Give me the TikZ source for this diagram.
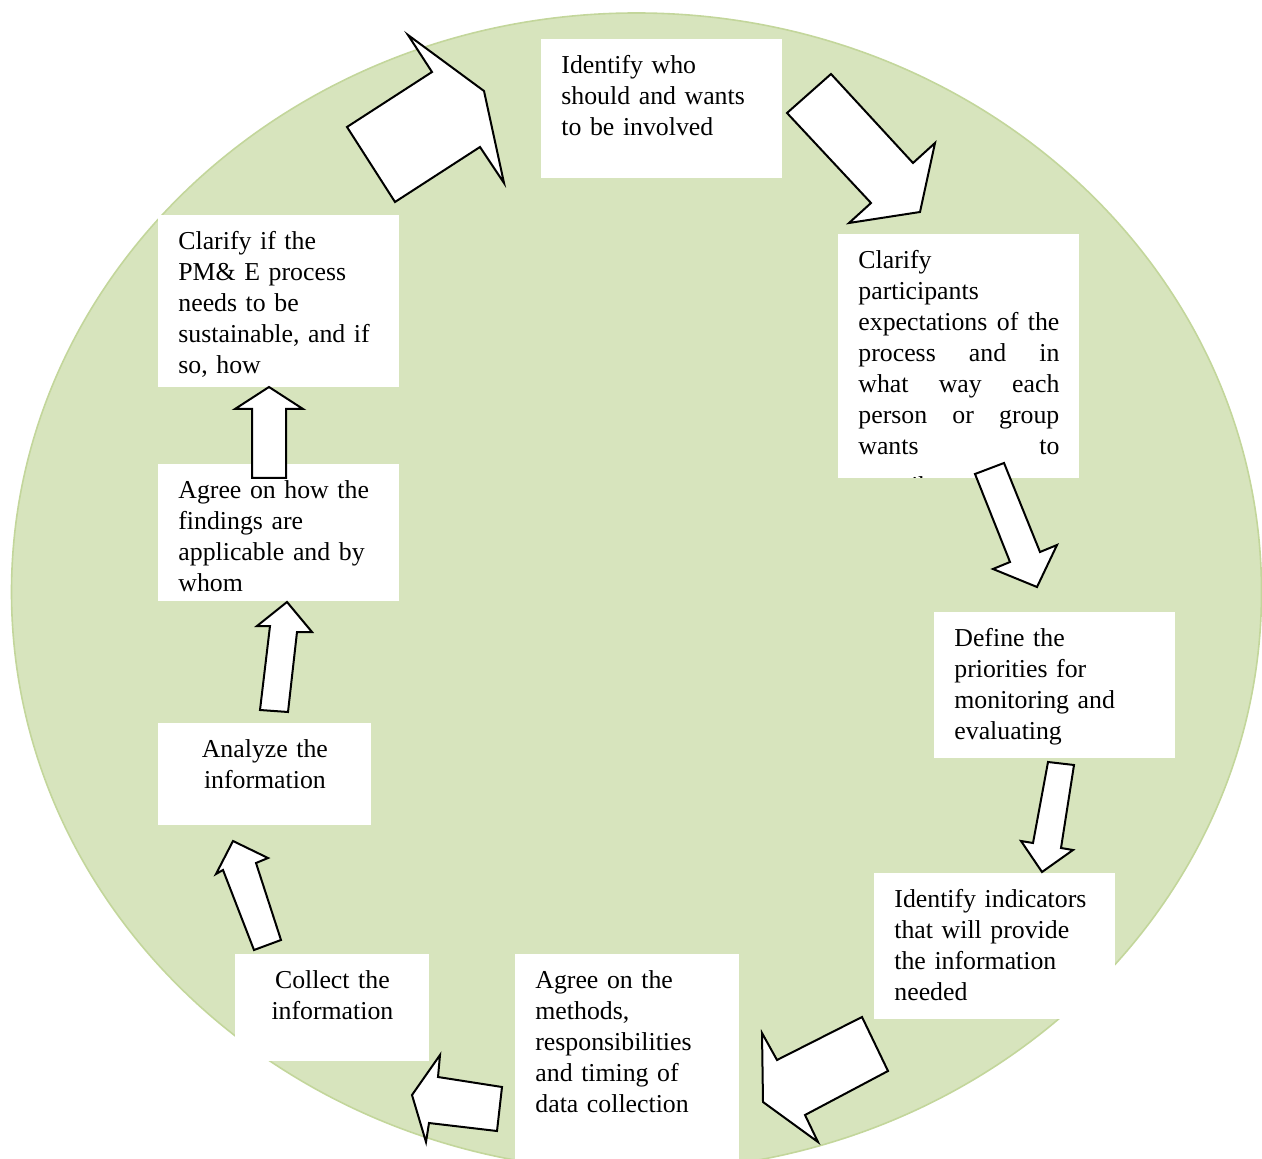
\documentclass[tikz,border=0pt]{standalone}
\usepackage{fontspec}
\setmainfont{Liberation Serif}
\usepackage{tikz}
\definecolor{ovalgreen}{HTML}{D7E4BD}
\definecolor{ovalrim}{HTML}{C3D69B}
\tikzset{
  stepbox/.style={fill=white, anchor=north west, inner xsep=10pt, inner ysep=0pt,
    text height=17pt, align=left, font=\fontsize{12.9pt}{15.5pt}\selectfont},
  blockarrow/.style={draw=black, fill=white, line width=1pt, line join=miter}
}
\begin{document}
\begin{tikzpicture}[x=0.5pt, y=-0.5pt]
  \useasboundingbox (0,0) rectangle (1262,1159);
  \draw[ovalrim, fill=ovalgreen, line width=0.8pt] (636.5,592) ellipse [x radius=312.5pt, y radius=289.5pt];
  % the nine steps
  \node[stepbox, text width=100.5pt, text depth=52.5pt] (who) at (541,39)
    {Identify who\\ should and wants\\ to be involved};
  \begin{scope}
    \clip (838,234) rectangle (1079,478);
    \node[stepbox, text width=100.5pt, text depth=105pt] (expect) at (838,234)
      {Clarify\\ participants\\ expectations\hfill of\hfill the\\ process\hfill and\hfill in\\
       what\hfill way\hfill each\\ person\hfill or\hfill group\\ wants\hfill to\\[4.5pt] contribute};
  \end{scope}
  \node[stepbox, text width=100.5pt, text depth=56pt] (priority) at (934,612)
    {Define the\\ priorities for\\ monitoring and\\ evaluating};
  \node[stepbox, text width=100.5pt, text depth=56pt] (indicator) at (874,873)
    {Identify indicators\\ that will provide\\ the information\\ needed};
  \node[stepbox, text width=92pt, text depth=85.5pt] (methods) at (515,954)
    {Agree on the\\ methods,\\ responsibilities\\ and timing of\\ data collection};
  \node[stepbox, text width=77pt, text depth=36.5pt, align=center] (collect) at (235,954)
    {Collect the\\ information};
  \node[stepbox, text width=86.5pt, text depth=34pt, align=center] (analyze) at (158,723)
    {Analyze the\\ information};
  \node[stepbox, text width=100.5pt, text depth=51.5pt] (apply) at (158,464)
    {Agree on how the\\ findings are\\ applicable and by\\ whom};
  \node[stepbox, text width=100.5pt, text depth=69pt] (sustain) at (158,215)
    {Clarify if the\\ PM\& E process\\ needs to be\\ sustainable, and if\\ so, how};
  % block arrows round the cycle
  \draw[blockarrow] (347,127) -- (432,72) -- (408,35) -- (484,91) -- (504,183) -- (480,147) -- (395,202) -- cycle;
  \draw[blockarrow] (831,74) -- (913,163) -- (935,143) -- (920,212) -- (849,223) -- (871,203) -- (787,113) -- cycle;
  \draw[blockarrow] (975,474) -- (1004,463) -- (1040,552) -- (1057,545) -- (1037,587) -- (993,569) -- (1010,562) -- cycle;
  \draw[blockarrow] (1048,762) -- (1074,765) -- (1061,848) -- (1073,850) -- (1042,872) -- (1021,841) -- (1033,843) -- cycle;
  \draw[blockarrow] (862,1017) -- (888,1071) -- (805,1115) -- (818,1142) -- (763,1102) -- (762,1033) -- (777,1060) -- cycle;
  \draw[blockarrow] (502,1087) -- (497,1131) -- (429,1123) -- (426,1142) -- (412,1095) -- (440,1055) -- (438,1077) -- cycle;
  \draw[blockarrow] (281,940) -- (254,950) -- (223,870) -- (216,874) -- (233,841) -- (268,858) -- (256,863) -- cycle;
  \draw[blockarrow] (260,710) -- (270,626) -- (257,626) -- (287,602) -- (312,632) -- (297,632) -- (288,712) -- cycle;
  \draw[blockarrow] (252,478) -- (252,409) -- (235,409) -- (269,387) -- (303,409) -- (286,409) -- (286,478) -- cycle;
\end{tikzpicture}
\end{document}
